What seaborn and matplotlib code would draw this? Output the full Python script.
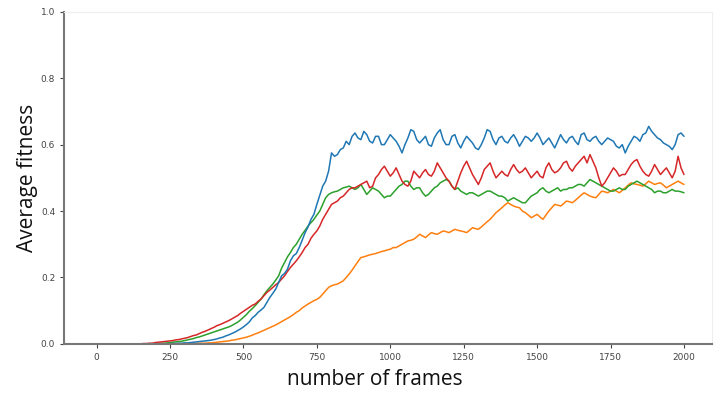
import numpy as np
import pandas as pd
import matplotlib
matplotlib.use("Agg")
import matplotlib.pyplot as plt
import seaborn as sns

# frames sampled every 10 steps (0..2000), one row of 10 values per 100 frames
frames = list(range(0, 2001, 10))

blue = [
    0, 0, 0, 0, 0, 0, 0, 0, 0, 0,
    0, 0, 0, 0, 0, 0, 0, 0, 0, 0,
    0, 0, 0, 0, 0, 0, 0.001, 0.001, 0.002, 0.002,
    0.003, 0.003, 0.004, 0.005, 0.006, 0.007, 0.008, 0.009, 0.010, 0.011,
    0.013, 0.015, 0.018, 0.02, 0.024, 0.027, 0.031, 0.035, 0.04, 0.045,
    0.051, 0.058, 0.066, 0.078, 0.085, 0.095, 0.102, 0.11, 0.125, 0.14,
    0.152, 0.165, 0.185, 0.205, 0.212, 0.225, 0.25, 0.265, 0.272, 0.29,
    0.312, 0.335, 0.352, 0.375, 0.39, 0.42, 0.448, 0.475, 0.49, 0.52,
    0.575, 0.565, 0.57, 0.585, 0.59, 0.61, 0.60, 0.625, 0.635, 0.62,
    0.615, 0.64, 0.63, 0.61, 0.605, 0.625, 0.625, 0.60, 0.60, 0.615,
    0.63, 0.62, 0.61, 0.595, 0.575, 0.60, 0.62, 0.645, 0.64, 0.615,
    0.605, 0.615, 0.625, 0.60, 0.595, 0.62, 0.635, 0.645, 0.615, 0.60,
    0.60, 0.625, 0.63, 0.605, 0.59, 0.61, 0.625, 0.615, 0.605, 0.59,
    0.585, 0.60, 0.62, 0.645, 0.64, 0.615, 0.60, 0.62, 0.625, 0.61,
    0.605, 0.62, 0.63, 0.615, 0.595, 0.61, 0.625, 0.62, 0.61, 0.62,
    0.635, 0.62, 0.60, 0.61, 0.62, 0.605, 0.59, 0.61, 0.63, 0.615,
    0.605, 0.62, 0.625, 0.61, 0.60, 0.63, 0.635, 0.615, 0.61, 0.62,
    0.625, 0.61, 0.60, 0.61, 0.62, 0.615, 0.61, 0.595, 0.59, 0.60,
    0.575, 0.595, 0.61, 0.625, 0.62, 0.61, 0.63, 0.635, 0.655, 0.64,
    0.63, 0.62, 0.615, 0.605, 0.60, 0.595, 0.585, 0.60, 0.63, 0.635,
    0.625]

red = [
    0, 0, 0, 0, 0, 0, 0, 0, 0, 0,
    0, 0, 0, 0, 0, 0, 0.001, 0.001, 0.002, 0.002,
    0.004, 0.005, 0.006, 0.007, 0.008, 0.009, 0.01, 0.012, 0.013, 0.015,
    0.017, 0.019, 0.022, 0.025, 0.027, 0.031, 0.035, 0.038, 0.042, 0.046,
    0.05, 0.055, 0.058, 0.062, 0.066, 0.07, 0.075, 0.08, 0.085, 0.092,
    0.098, 0.104, 0.11, 0.116, 0.12, 0.128, 0.135, 0.145, 0.155, 0.162,
    0.17, 0.178, 0.185, 0.195, 0.205, 0.218, 0.23, 0.24, 0.25, 0.262,
    0.275, 0.29, 0.30, 0.318, 0.33, 0.34, 0.355, 0.375, 0.39, 0.405,
    0.42, 0.425, 0.43, 0.44, 0.445, 0.455, 0.465, 0.47, 0.47, 0.475,
    0.48, 0.485, 0.49, 0.47, 0.475, 0.50, 0.51, 0.525, 0.535, 0.52,
    0.505, 0.515, 0.53, 0.51, 0.49, 0.48, 0.475, 0.49, 0.52, 0.51,
    0.50, 0.515, 0.525, 0.51, 0.505, 0.52, 0.545, 0.53, 0.515, 0.50,
    0.49, 0.475, 0.465, 0.49, 0.515, 0.535, 0.55, 0.53, 0.51, 0.495,
    0.48, 0.50, 0.525, 0.535, 0.545, 0.52, 0.50, 0.51, 0.52, 0.51,
    0.505, 0.525, 0.54, 0.525, 0.515, 0.52, 0.53, 0.515, 0.50, 0.51,
    0.52, 0.505, 0.50, 0.53, 0.545, 0.525, 0.515, 0.52, 0.53, 0.545,
    0.55, 0.53, 0.52, 0.535, 0.545, 0.555, 0.565, 0.545, 0.57, 0.55,
    0.53, 0.50, 0.475, 0.485, 0.50, 0.515, 0.53, 0.52, 0.505, 0.51,
    0.51, 0.525, 0.54, 0.55, 0.555, 0.535, 0.52, 0.51, 0.505, 0.52,
    0.54, 0.525, 0.51, 0.52, 0.53, 0.515, 0.50, 0.52, 0.565, 0.53,
    0.51]

green = [
    0, 0, 0, 0, 0, 0, 0, 0, 0, 0,
    0, 0, 0, 0, 0, 0, 0, 0, 0, 0,
    0.001, 0.001, 0.002, 0.002, 0.003, 0.004, 0.005, 0.006, 0.007, 0.008,
    0.01, 0.012, 0.014, 0.016, 0.019, 0.021, 0.024, 0.027, 0.03, 0.033,
    0.036, 0.039, 0.042, 0.045, 0.048, 0.051, 0.055, 0.06, 0.065, 0.072,
    0.08, 0.088, 0.098, 0.106, 0.115, 0.125, 0.135, 0.148, 0.16, 0.17,
    0.18, 0.192, 0.205, 0.228, 0.245, 0.262, 0.275, 0.29, 0.30, 0.315,
    0.33, 0.342, 0.355, 0.365, 0.375, 0.388, 0.40, 0.42, 0.44, 0.45,
    0.455, 0.458, 0.46, 0.465, 0.47, 0.472, 0.475, 0.47, 0.465, 0.47,
    0.48, 0.465, 0.45, 0.46, 0.47, 0.465, 0.46, 0.45, 0.44, 0.445,
    0.445, 0.455, 0.465, 0.475, 0.48, 0.49, 0.49, 0.475, 0.465, 0.47,
    0.47, 0.455, 0.445, 0.45, 0.46, 0.47, 0.475, 0.485, 0.49, 0.495,
    0.49, 0.475, 0.465, 0.47, 0.46, 0.455, 0.45, 0.455, 0.455, 0.45,
    0.445, 0.45, 0.455, 0.46, 0.46, 0.455, 0.45, 0.445, 0.445, 0.44,
    0.43, 0.435, 0.44, 0.435, 0.43, 0.425, 0.425, 0.435, 0.445, 0.45,
    0.455, 0.465, 0.47, 0.46, 0.455, 0.46, 0.465, 0.47, 0.46, 0.465,
    0.465, 0.47, 0.47, 0.475, 0.48, 0.48, 0.475, 0.485, 0.495, 0.49,
    0.485, 0.48, 0.475, 0.47, 0.465, 0.46, 0.46, 0.465, 0.47, 0.465,
    0.465, 0.475, 0.48, 0.485, 0.49, 0.485, 0.48, 0.475, 0.47, 0.465,
    0.455, 0.46, 0.46, 0.455, 0.455, 0.46, 0.465, 0.46, 0.46, 0.458,
    0.455]

orange = [
    0, 0, 0, 0, 0, 0, 0, 0, 0, 0,
    0, 0, 0, 0, 0, 0, 0, 0, 0, 0,
    0, 0, 0, 0, 0, 0, 0, 0, 0, 0,
    0.001, 0.001, 0.001, 0.001, 0.002, 0.002, 0.002, 0.002, 0.003, 0.003,
    0.004, 0.005, 0.006, 0.007, 0.008, 0.009, 0.011, 0.012, 0.014, 0.016,
    0.018, 0.02, 0.023, 0.026, 0.03, 0.033, 0.037, 0.041, 0.045, 0.049,
    0.053, 0.057, 0.062, 0.067, 0.072, 0.077, 0.082, 0.088, 0.095, 0.10,
    0.108, 0.114, 0.12, 0.125, 0.13, 0.134, 0.14, 0.15, 0.16, 0.17,
    0.175, 0.178, 0.18, 0.185, 0.19, 0.20, 0.21, 0.222, 0.235, 0.248,
    0.26, 0.262, 0.265, 0.268, 0.27, 0.272, 0.275, 0.278, 0.28, 0.283,
    0.285, 0.29, 0.29, 0.295, 0.30, 0.305, 0.31, 0.312, 0.315, 0.322,
    0.33, 0.325, 0.32, 0.328, 0.335, 0.332, 0.33, 0.335, 0.34, 0.338,
    0.335, 0.34, 0.345, 0.342, 0.34, 0.338, 0.335, 0.342, 0.35, 0.347,
    0.345, 0.352, 0.36, 0.368, 0.375, 0.385, 0.395, 0.402, 0.41, 0.418,
    0.425, 0.42, 0.415, 0.412, 0.41, 0.40, 0.395, 0.388, 0.38, 0.385,
    0.39, 0.382, 0.375, 0.388, 0.40, 0.41, 0.42, 0.418, 0.415, 0.422,
    0.43, 0.428, 0.425, 0.432, 0.44, 0.448, 0.455, 0.45, 0.445, 0.442,
    0.44, 0.45, 0.46, 0.458, 0.455, 0.46, 0.465, 0.46, 0.455, 0.462,
    0.47, 0.478, 0.485, 0.482, 0.48, 0.478, 0.475, 0.482, 0.49, 0.485,
    0.48, 0.483, 0.485, 0.478, 0.47, 0.475, 0.48, 0.485, 0.49, 0.485,
    0.48]

series = {"orange": orange, "green": green, "red": red, "blue": blue}
colors = {"blue": "#1f77b4", "orange": "#ff7f0e", "green": "#2ca02c", "red": "#d62728"}

df = pd.concat(
    [pd.DataFrame({"frame": frames, "fitness": vals, "run": name}) for name, vals in series.items()],
    ignore_index=True,
)

sns.set_style("white")
plt.rcParams["font.family"] = ["DejaVu Sans"]

fig = plt.figure(figsize=(7.14, 3.93), dpi=100)
ax = fig.add_axes([0.09, 0.125, 0.907, 0.845])

sns.lineplot(data=df, x="frame", y="fitness", hue="run", palette=colors,
             hue_order=list(series.keys()), linewidth=1.1, legend=False, ax=ax)

ax.set_ylim(0, 1.0)
ax.set_xlim(-110, 2095)
ax.set_xticks([0, 250, 500, 750, 1000, 1250, 1500, 1750, 2000])
ax.set_yticks([0.0, 0.2, 0.4, 0.6, 0.8, 1.0])
ax.set_yticklabels(["0.0", "0.2", "0.4", "0.6", "0.8", "1.0"])
ax.tick_params(axis="both", labelsize=6.5, colors="#444444", length=3, width=0.8,
               left=True, bottom=True, direction="out")

for side in ["left", "bottom"]:
    ax.spines[side].set_color("#777777")
    ax.spines[side].set_linewidth(1.5)
for side in ["top", "right"]:
    ax.spines[side].set_color("#eeeeee")
    ax.spines[side].set_linewidth(0.8)

ax.set_xlabel("number of frames", fontsize=15, family="Open Sans", color="#111111", labelpad=8)
ax.set_ylabel("Average fitness", fontsize=15, family="Open Sans", color="#111111", labelpad=2)
ax.xaxis.set_label_coords(0.48, -0.075)

fig.savefig("out.png", dpi=100, facecolor="white")
